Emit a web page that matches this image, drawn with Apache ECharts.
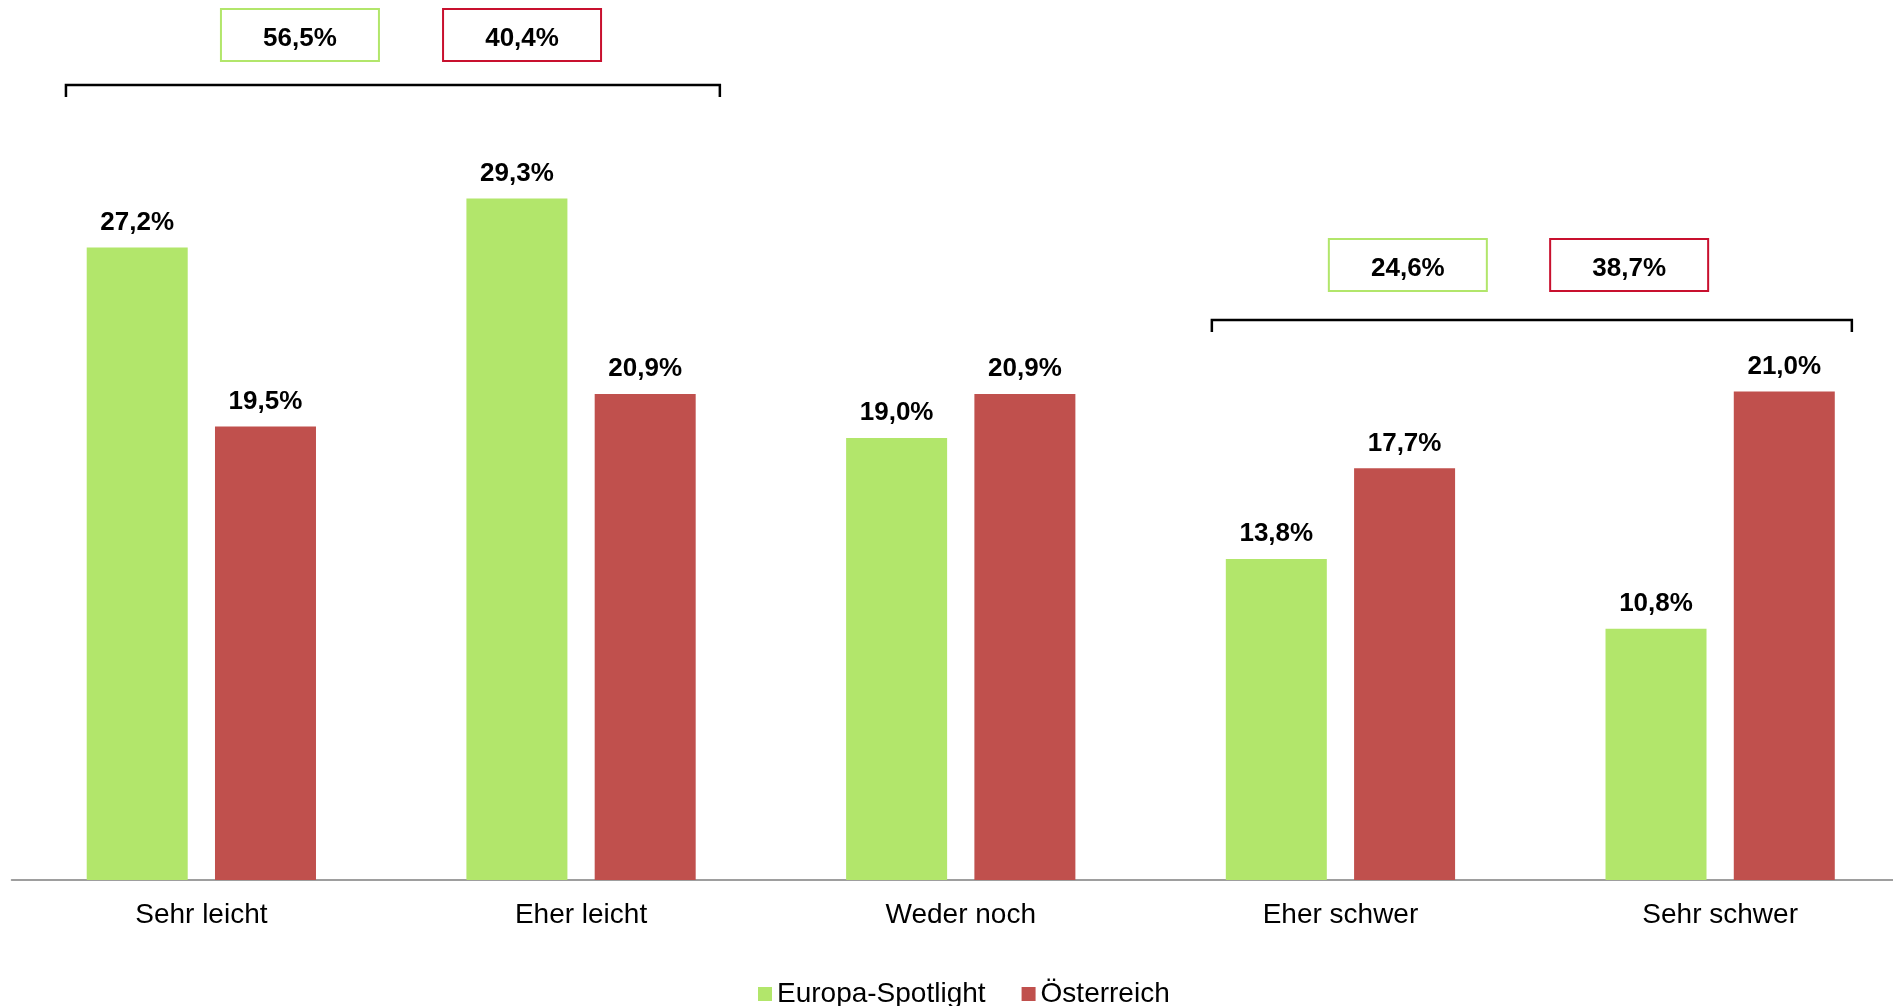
<!DOCTYPE html>
<html><head><meta charset="utf-8">
<script src="https://cdn.jsdelivr.net/npm/echarts@6/dist/echarts.min.js"></script>
<style>html,body{margin:0;padding:0;background:#fff}#c{width:1893px;height:1006px}</style>
</head><body><div id="c"></div>
<script>
const categories = ['Sehr leicht', 'Eher leicht', 'Weder noch', 'Eher schwer', 'Sehr schwer'];
const seriesNames = ['Europa-Spotlight', 'Österreich'];
const europa = [27.2, 29.3, 19.0, 13.8, 10.8];
const oesterreich = [19.5, 20.9, 20.9, 17.7, 21.0];
const groupLeichtSums = [56.5, 40.4];
const groupSchwerSums = [24.6, 38.7];

const GREEN = '#b2e66b', RED = '#c0504d', BOXRED = '#c8102e';
const FONT = '"Liberation Sans", Arial, sans-serif';
const fmt = v => v.toFixed(1).replace('.', ',') + '%';

const chart = echarts.init(document.getElementById('c'));
const labelCfg = {show: true, position: 'top', distance: 12, color: '#000', fontFamily: FONT, fontWeight: 'bold', fontSize: 26,
  formatter: p => fmt(p.value)};
chart.setOption({
  animation: false,
  grid: {left: 11.5, width: 1898.5, top: 66, height: 814, containLabel: false, outerBoundsMode: 'none'},
  legend: {data: seriesNames, left: 753, top: 975, icon: 'rect', itemWidth: 14, itemHeight: 14, itemGap: 36,
    textStyle: {fontFamily: FONT, fontSize: 28, color: '#000'}},
  xAxis: {type: 'category', data: categories,
    axisLine: {lineStyle: {color: '#7f7f7f', width: 1.5}}, axisTick: {show: false},
    axisLabel: {margin: 21, color: '#000', fontFamily: FONT, fontSize: 28}},
  yAxis: {type: 'value', min: 0, max: 35, show: false, splitLine: {show: false}},
  series: [
    {name: seriesNames[0], type: 'bar', data: europa, barWidth: 101, barGap: '27%', itemStyle: {color: GREEN}, label: labelCfg},
    {name: seriesNames[1], type: 'bar', data: oesterreich, barWidth: 101, itemStyle: {color: RED}, label: labelCfg}
  ]
});

function cx(i) { return chart.convertToPixel({xAxisIndex: 0}, categories[i]); }
function bracket(x1, x2, y) {
  return {type: 'polyline', shape: {points: [[x1, y + 12], [x1, y], [x2, y], [x2, y + 12]]},
    style: {stroke: '#000', lineWidth: 2.5, fill: null}};
}
function box(xc, y, val, col) {
  return {type: 'group', children: [
    {type: 'rect', shape: {x: xc - 79, y: y, width: 158, height: 52}, style: {fill: '#fff', stroke: col, lineWidth: 2}},
    {type: 'text', x: xc, y: y + 29.5, style: {text: fmt(val), fill: '#000', font: 'bold 26px ' + FONT, align: 'center', verticalAlign: 'middle'}}
  ]};
}
const c0 = cx(0), c1 = cx(1), c3 = cx(3), c4 = cx(4);
chart.setOption({graphic: [
  bracket(c0 - 135.4, c1 + 138.8, 85),
  box(c0 + 98.6, 9, groupLeichtSums[0], GREEN),
  box(c1 - 59, 9, groupLeichtSums[1], BOXRED),
  bracket(c3 - 128.6, c4 + 131.7, 320),
  box(c3 + 67.4, 239, groupSchwerSums[0], GREEN),
  box(c4 - 91, 239, groupSchwerSums[1], BOXRED)
]});
</script></body></html>
